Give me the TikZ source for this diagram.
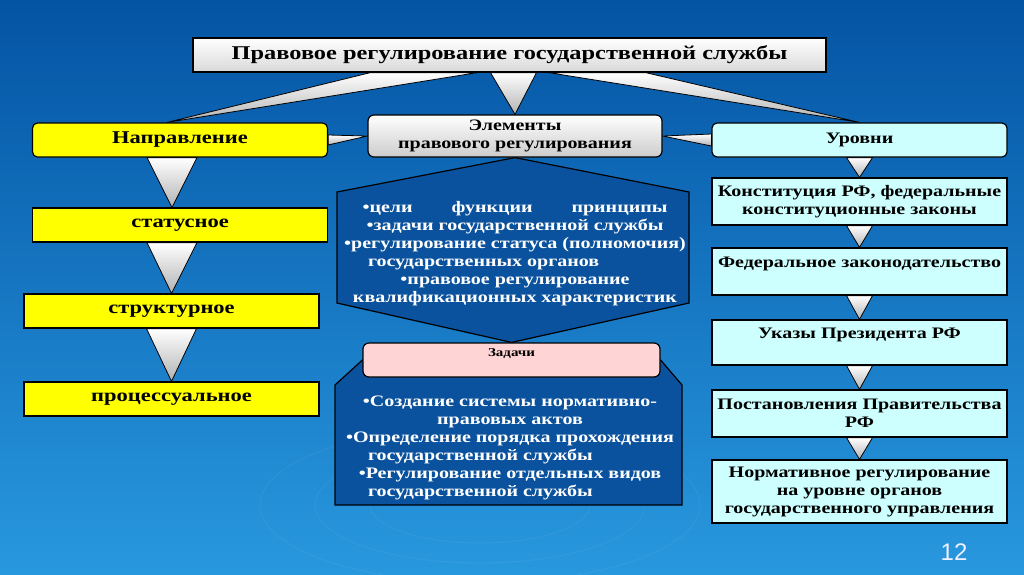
\documentclass[tikz,border=0pt]{standalone}
\usepackage{fontspec}
\setmainfont{Liberation Serif}[FakeStretch=1.25]
\newfontfamily\nomerfont{Liberation Sans}
\usetikzlibrary{backgrounds}

\definecolor{fonverh}{RGB}{4,84,164}
\definecolor{fonsred}{RGB}{14,110,192}
\definecolor{fonniz}{RGB}{40,152,222}
\definecolor{figfon}{RGB}{10,82,158}
\definecolor{zhelt}{RGB}{255,255,0}
\definecolor{golub}{RGB}{206,255,255}
\definecolor{rozov}{RGB}{255,212,212}

\tikzset{
	ramka/.style={draw=black, line width=1.2pt, inner sep=2pt, align=center,
		font=\fontsize{16}{18}\selectfont\bfseries},
	zagolovok/.style={ramka, top color=white, bottom color=gray!30,
		minimum width=633pt, minimum height=34pt, font=\fontsize{19.5}{22}\selectfont\bfseries},
	zheltyj/.style={ramka, fill=zhelt, minimum width=295pt, minimum height=34pt,
		font=\fontsize{18}{20}\selectfont\bfseries},
	seryj/.style={ramka, rounded corners=6pt, top color=white, bottom color=gray!40,
		minimum width=294pt, minimum height=42pt},
	goluboj/.style={ramka, fill=golub, minimum width=295pt, minimum height=47pt},
	rozovyj/.style={ramka, rounded corners=6pt, fill=rozov, minimum width=297pt, minimum height=34pt,
		font=\fontsize{12}{15}\selectfont\bfseries},
	klin/.style={draw=black, line width=0.8pt, top color=white, bottom color=gray!60},
	figura/.style={draw=black, line width=1.2pt, fill=figfon},
	belyj/.style={text=white, align=center, font=\fontsize{16}{18}\selectfont\bfseries}
}

\begin{document}
\begin{tikzpicture}[x=1pt, y=-1pt]
	\useasboundingbox (0,0) rectangle (1024,574);

	% Заголовок
	\node[zagolovok] (title) at (509.5,55) {Правовое регулирование государственной службы};

	% Верхний ряд
	\node[zheltyj, rounded corners=5pt] (napr) at (180,140) {Направление};
	\node[seryj] (elem) at (515,136) {Элементы\\правового регулирования};
	\node[goluboj, rounded corners=5pt, minimum height=34pt] (urov) at (859.5,140) {Уровни};

	% Левая колонка
	\node[zheltyj] (stat) at (180,225) {статусное};
	\node[zheltyj] (strukt) at (171.5,311) {структурное};
	\node[zheltyj] (proc) at (171.5,399) {процессуальное};

	% Средняя колонка
	\node[belyj] (spisok) at (515,254) {%
		\makebox[305pt]{•цели\hfill функции\hfill принципы}\\
		•задачи государственной службы\\
		•регулирование статуса (полномочия)\\
		\makebox[294pt][l]{государственных органов}\\
		•правовое регулирование\\
		квалификационных характеристик};
	\node[rozovyj] (zad) at (511.5,360) {Задачи\\\mbox{}};
	\node[belyj] (zadtxt) at (510,448) {%
		•Создание системы нормативно-\\
		правовых актов\\
		•Определение порядка прохождения\\
		\makebox[284pt][l]{государственной службы}\\
		•Регулирование отдельных видов\\
		\makebox[284pt][l]{государственной службы}};

	% Правая колонка
	\node[goluboj] (konst) at (859.5,201.5) {Конституция РФ, федеральные\\конституционные законы};
	\node[goluboj] (feder) at (859.5,271.5) {Федеральное законодательство\\\mbox{}};
	\node[goluboj, minimum height=45pt] (ukaz) at (859.5,342.5) {Указы Президента РФ\\\mbox{}};
	\node[goluboj] (postan) at (859.5,413.5) {Постановления Правительства\\РФ};
	\node[goluboj, minimum height=63pt] (norm) at (859.5,491.5) {Нормативное регулирование\\на уровне органов\\государственного управления};

	% Номер слайда
	\node[font=\nomerfont\fontsize{24}{24}\selectfont, text=white!94!blue] (nomer) at (954,552) {12};

	\begin{scope}[on background layer]
		% Фон
		\fill[top color=fonverh, middle color=fonsred, bottom color=fonniz] (0,0) rectangle (1024,574);
		\draw[white, opacity=0.05, line width=1pt] (480,505) ellipse (110 and 38);
		\draw[white, opacity=0.05, line width=1pt] (480,505) ellipse (165 and 58);
		\draw[white, opacity=0.05, line width=1pt] (480,505) ellipse (220 and 78);

		% Шестиугольник и нижняя фигура
		\path[figura] (elem.south) -- (337,192) -- (337,303) -- (zad.north) -- (689,303) -- (689,192) -- cycle;
		\path[figura] (zad.west) -- (335,385) -- (335,505) -- (682,505) -- (682,385) -- (zad.east) -- cycle;

		% Клинья от заголовка
		\path[klin] ([xshift=-139pt]title.south) -- ([xshift=-32pt]title.south) -- ([xshift=-13pt]napr.north) -- cycle;
		\path[klin] ([xshift=-19pt]title.south) -- ([xshift=27pt]title.south) -- (elem.north) -- cycle;
		\path[klin] ([xshift=39pt]title.south) -- ([xshift=136pt]title.south) -- (urov.north) -- cycle;

		% Боковые клинья к элементам
		\path[klin] ([yshift=5pt]napr.east) -- ([yshift=-5pt]napr.east) -- (elem.west) -- cycle;
		\path[klin] ([yshift=6pt]urov.west) -- ([yshift=-6pt]urov.west) -- (elem.east) -- cycle;

		% Левая колонка
		\path[klin] ([xshift=-33pt]napr.south) -- ([xshift=17pt]napr.south) -- ([xshift=-8pt]stat.north) -- cycle;
		\path[klin] ([xshift=-33pt]stat.south) -- ([xshift=17pt]stat.south) -- (strukt.north) -- cycle;
		\path[klin] ([xshift=-25pt]strukt.south) -- ([xshift=25pt]strukt.south) -- (proc.north) -- cycle;

		% Правая колонка
		\path[klin] ([xshift=-13pt]urov.south) -- ([xshift=13pt]urov.south) -- (konst.north) -- cycle;
		\path[klin] ([xshift=-13pt]konst.south) -- ([xshift=13pt]konst.south) -- (feder.north) -- cycle;
		\path[klin] ([xshift=-13pt]feder.south) -- ([xshift=13pt]feder.south) -- (ukaz.north) -- cycle;
		\path[klin] ([xshift=-13pt]ukaz.south) -- ([xshift=13pt]ukaz.south) -- (postan.north) -- cycle;
		\path[klin] ([xshift=-13pt]postan.south) -- ([xshift=13pt]postan.south) -- (norm.north) -- cycle;
	\end{scope}

\end{tikzpicture}
\end{document}
